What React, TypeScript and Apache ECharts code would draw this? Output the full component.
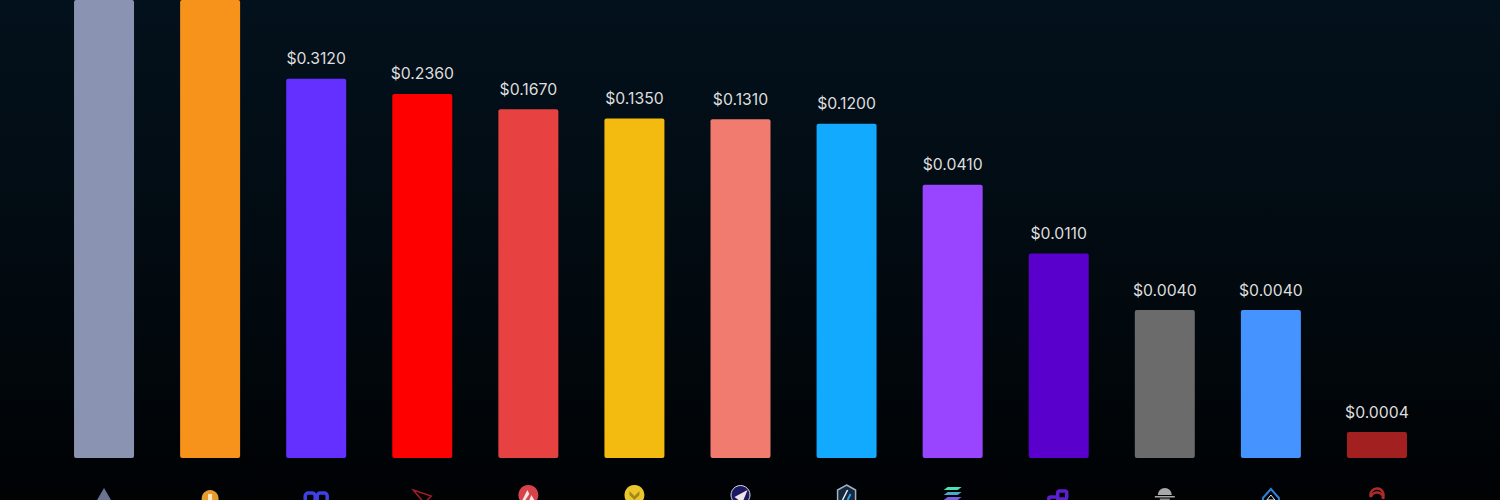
import React, { useEffect, useRef } from "react";
import * as echarts from "echarts";

const categories = ["ETH", "BTC", "ZK", "TRX", "AVAX", "BNB", "STRK", "ARB", "SOL", "POL", "SUI", "LIDO", "SCR"];
// Bar heights; they sit slightly apart from the printed labels for some bars.
const barHeights = [2.6, 2.1, 0.314, 0.236, 0.1767, 0.1484, 0.1467, 0.1344, 0.0426, 0.01164, 0.004, 0.004, 0.0004];
const colors = ["#8a94b2", "#f7931a", "#6430ff", "#ff0000", "#e84142", "#f3ba0f", "#f27b70", "#12aaff", "#9945ff", "#5a00cc", "#6b6b6b", "#4593ff", "#a32020"];
const shownLabels = ["", "", "$0.3120", "$0.2360", "$0.1670", "$0.1350", "$0.1310", "$0.1200", "$0.0410", "$0.0110", "$0.0040", "$0.0040", "$0.0004"];

// ECharts starts bars on a log axis at value 1, so values are plotted in units of the axis floor.
const FLOOR = 0.000245;
const CEILING = 1.39;

export default function App() {
  const ref = useRef<HTMLDivElement>(null);
  useEffect(() => {
    const chart = echarts.init(ref.current!, undefined, { renderer: "svg" });
    chart.setOption({
      animation: false,
      backgroundColor: {
        type: "linear", x: 0, y: 0, x2: 0, y2: 1,
        colorStops: [
          { offset: 0, color: "#03111c" },
          { offset: 0.55, color: "#020a10" },
          { offset: 1, color: "#000204" },
        ],
      },
      grid: { left: 51, right: 70, top: 0, bottom: 42 },
      xAxis: {
        type: "category",
        data: categories,
        axisLine: { show: false },
        axisTick: { show: false },
        axisLabel: { show: false },
      },
      yAxis: {
        type: "log",
        min: 1,
        max: CEILING / FLOOR,
        show: false,
        splitLine: { show: false },
      },
      series: [
        {
          type: "bar",
          barWidth: 60,
          clip: true,
          data: barHeights.map((v, i) => ({
            value: v / FLOOR,
            itemStyle: { color: colors[i], borderRadius: 2 },
            label: {
              show: shownLabels[i] !== "",
              formatter: shownLabels[i],
              position: "top",
              distance: 12,
              color: "#dedede",
              fontFamily: "Inter",
              fontSize: 15.75,
            },
          })),
        },
      ],
    });
    const cx = (i: number) => chart.convertToPixel({ xAxisIndex: 0 }, categories[i]) as number;
    const g: any[] = [];
    // Ethereum
    g.push({ type: "polygon", shape: { points: [[cx(0), 488], [cx(0) + 7, 500], [cx(0) - 7, 500]] }, style: { fill: "#6b7390" } });
    // Bitcoin
    g.push({ type: "circle", shape: { cx: cx(1), cy: 498.5, r: 8.5 }, style: { fill: "#e89a2c" } });
    g.push({ type: "rect", shape: { x: cx(1) - 2, y: 494, width: 4, height: 6 }, style: { fill: "#fbe9c8" } });
    // double loop
    g.push({ type: "rect", shape: { x: cx(2) - 11, y: 493, width: 10, height: 9, r: 3 }, style: { fill: "none", stroke: "#4040e8", lineWidth: 3.5 } });
    g.push({ type: "rect", shape: { x: cx(2) + 1, y: 493, width: 10, height: 9, r: 3 }, style: { fill: "none", stroke: "#4040e8", lineWidth: 3.5 } });
    // Tron
    g.push({ type: "polygon", shape: { points: [[cx(3) - 9, 490], [cx(3) + 9, 496], [cx(3) + 2, 503]] }, style: { fill: "none", stroke: "#a51c24", lineWidth: 1.5 } });
    // Avalanche
    g.push({ type: "circle", shape: { cx: cx(4), cy: 495, r: 10 }, style: { fill: "#d8424a" } });
    g.push({ type: "polygon", shape: { points: [[cx(4) - 1, 490], [cx(4) + 1, 494], [cx(4) - 3, 500], [cx(4) - 6, 500]] }, style: { fill: "#f5e6e6" } });
    g.push({ type: "polygon", shape: { points: [[cx(4) + 3, 495], [cx(4) + 6, 500], [cx(4) + 1, 500]] }, style: { fill: "#f5e6e6" } });
    // gold coin
    g.push({ type: "circle", shape: { cx: cx(5), cy: 495, r: 10 }, style: { fill: "#e9c62c" } });
    g.push({ type: "polygon", shape: { points: [[cx(5) - 5, 491], [cx(5), 496], [cx(5) + 5, 491], [cx(5) + 5, 495], [cx(5), 500], [cx(5) - 5, 495]] }, style: { fill: "#a8871a" } });
    // Starknet
    g.push({ type: "circle", shape: { cx: cx(6), cy: 495, r: 9.5 }, style: { fill: "#1c1a5e", stroke: "#d8d8f0", lineWidth: 1 } });
    g.push({ type: "polygon", shape: { points: [[cx(6) - 6, 497], [cx(6) + 7, 490], [cx(6) + 3, 500], [cx(6) - 2, 500]] }, style: { fill: "#f0e4ea" } });
    // Arbitrum
    g.push({ type: "polygon", shape: { points: [[cx(7), 485], [cx(7) + 9, 490], [cx(7) + 9, 503], [cx(7) - 9, 503], [cx(7) - 9, 490]] }, style: { fill: "#16283c", stroke: "#9fb2c6", lineWidth: 1.5 } });
    g.push({ type: "line", shape: { x1: cx(7) - 4, y1: 500, x2: cx(7) + 1, y2: 490 }, style: { stroke: "#e8eef4", lineWidth: 1.5 } });
    g.push({ type: "line", shape: { x1: cx(7) + 1, y1: 500, x2: cx(7) + 4, y2: 494 }, style: { stroke: "#2c9fe8", lineWidth: 2 } });
    // Solana
    ([["#4fe0b0", 487], ["#4aa8c8", 492], ["#7a5ce0", 497]] as [string, number][]).forEach(([c, y]) => {
      g.push({ type: "polygon", shape: { points: [[cx(8) - 9, y + 3], [cx(8) - 5, y], [cx(8) + 9, y], [cx(8) + 5, y + 3]] }, style: { fill: c } });
    });
    // Polygon
    g.push({ type: "rect", shape: { x: cx(9) - 10, y: 497, width: 9, height: 8, r: 2 }, style: { fill: "none", stroke: "#5c1fd0", lineWidth: 3.5 } });
    g.push({ type: "rect", shape: { x: cx(9) - 1, y: 491, width: 9, height: 8, r: 2 }, style: { fill: "none", stroke: "#5c1fd0", lineWidth: 3.5 } });
    // parasol
    g.push({ type: "sector", shape: { cx: cx(10), cy: 495, r0: 0, r: 7, startAngle: Math.PI, endAngle: 2 * Math.PI }, style: { fill: "#a8a8a8" } });
    g.push({ type: "rect", shape: { x: cx(10) - 10, y: 496, width: 20, height: 1.5 }, style: { fill: "#a8a8a8" } });
    g.push({ type: "rect", shape: { x: cx(10) - 5, y: 498.5, width: 10, height: 1.5 }, style: { fill: "#8a8a8a" } });
    // drop
    g.push({ type: "polygon", shape: { points: [[cx(11), 489], [cx(11) + 8, 498], [cx(11) + 8, 504], [cx(11) - 8, 504], [cx(11) - 8, 498]] }, style: { fill: "none", stroke: "#2f7fd8", lineWidth: 2 } });
    g.push({ type: "polygon", shape: { points: [[cx(11), 495], [cx(11) + 4, 500], [cx(11) - 4, 500]] }, style: { fill: "none", stroke: "#dfeaf7", lineWidth: 1 } });
    // Scroll
    g.push({ type: "arc", shape: { cx: cx(12), cy: 495, r: 6.5, startAngle: Math.PI * 0.9, endAngle: 2.2 * Math.PI }, style: { fill: "none", stroke: "#b02a2a", lineWidth: 2.5 } });
    g.push({ type: "arc", shape: { cx: cx(12), cy: 499, r: 6.5, startAngle: Math.PI * 1.1, endAngle: 2 * Math.PI }, style: { fill: "none", stroke: "#b02a2a", lineWidth: 2.5 } });
    chart.setOption({ graphic: { elements: g } });
    return () => chart.dispose();
  }, []);
  return <div ref={ref} style={{ position: "absolute", left: 0, top: 0, width: 1500, height: 500 }} />;
}
